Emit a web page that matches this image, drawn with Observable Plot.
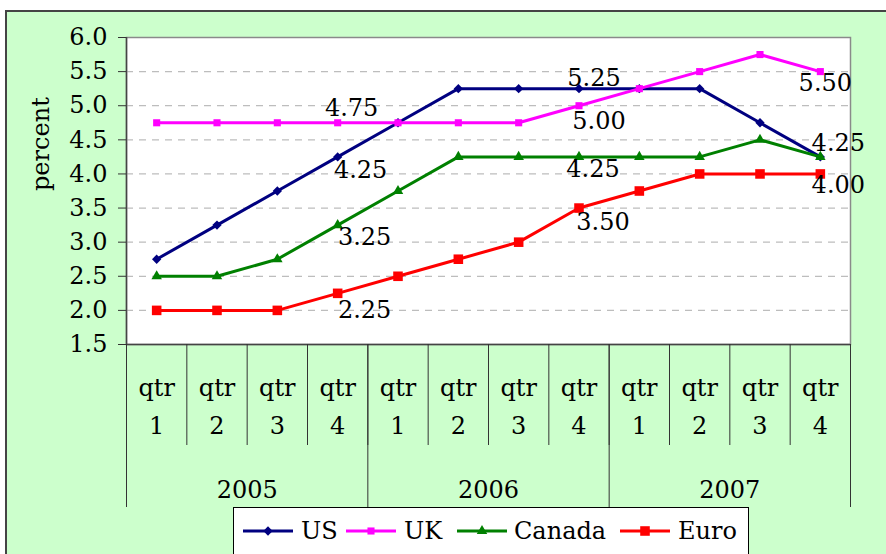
<!DOCTYPE html>
<html><head><meta charset="utf-8">
<script src="https://cdn.jsdelivr.net/npm/d3@7"></script>
<script src="https://cdn.jsdelivr.net/npm/@observablehq/plot@0.6"></script>
<style>
html,body{margin:0;padding:0;width:886px;height:554px;overflow:hidden;background:#fff;}
#bg{position:absolute;left:5px;top:10px;width:900px;height:600px;background:#ccffcc;border-left:2px solid #444;border-top:2px solid #444;box-sizing:border-box;}
#chart{position:absolute;left:0;top:0;}
#legend{position:absolute;left:233px;top:507px;width:516px;height:60px;background:#fff;border:1px solid #000;box-sizing:border-box;}
#legend svg{display:block;}
</style></head><body>
<div id="bg"></div><div id="chart"></div><div id="legend"></div>
<script>
// ---- data ----
const years = ["2005", "2006", "2007"];
const quarters = ["1", "2", "3", "4"];
const seriesNames = ["US", "UK", "Canada", "Euro"];
const usRates     = [2.75, 3.25, 3.75, 4.25, 4.75, 5.25, 5.25, 5.25, 5.25, 5.25, 4.75, 4.25];
const ukRates     = [4.75, 4.75, 4.75, 4.75, 4.75, 4.75, 4.75, 5.00, 5.25, 5.50, 5.75, 5.50];
const canadaRates = [2.50, 2.50, 2.75, 3.25, 3.75, 4.25, 4.25, 4.25, 4.25, 4.25, 4.50, 4.25];
const euroRates   = [2.00, 2.00, 2.00, 2.25, 2.50, 2.75, 3.00, 3.50, 3.75, 4.00, 4.00, 4.00];
const yTicks = [1.5, 2.0, 2.5, 3.0, 3.5, 4.0, 4.5, 5.0, 5.5, 6.0];
const yLabel = "percent";
const qtrWord = "qtr";
// labelled points: [series, index]
const labelledPoints = [["UK",3],["US",3],["Canada",3],["Euro",3],["US",7],["UK",7],["Canada",7],["Euro",7],["UK",11],["Canada",11],["Euro",11]];

// ---- styling (not data) ----
const colors = {US: "#000080", UK: "#ff00ff", Canada: "#008000", Euro: "#ff0000"};
const symbols = {US: "diamond2", UK: "square", Canada: "triangle", Euro: "square"};
const sizes = {US: 4.2, UK: 4.0, Canada: 3.9, Euro: 5.4};
const labelOffsets = [[14,-14],[23,13],[27,12],[27,17],[15,-10],[20,16],[14,12],[24,14],[5,12],[18,-14],[18,11]];
const FONT = "DejaVu Serif";
const FS = 24;

const seriesValues = {US: usRates, UK: ukRates, Canada: canadaRates, Euro: euroRates};
const nQ = years.length * quarters.length;
const rows = seriesNames.flatMap(s => seriesValues[s].map((v, i) => ({series: s, i, value: v})));
const cats = d3.range(nQ).map(i => ({i, q: quarters[i % quarters.length], year: years[Math.floor(i / quarters.length)]}));
const yearRows = years.map((y, k) => ({year: y, k}));
const xPos = i => i + 0.5;

const marks = [
  Plot.frame({fill: "white", stroke: "#8a8a8a", strokeWidth: 1.5}),
  Plot.gridY(yTicks.slice(1, -1), {stroke: "#bdbdbd", strokeOpacity: 1, strokeDasharray: "7,6", strokeWidth: 1.3}),
  Plot.ruleX([0], {stroke: "#444", strokeWidth: 1.5}),
  Plot.ruleY([yTicks[0]], {stroke: "#444", strokeWidth: 1.5}),
  Plot.axisY(yTicks, {tickFormat: d3.format(".1f"), tickSize: 8, tickPadding: 11, label: null, fontSize: FS, stroke: "#333", fill: "#000"}),
  Plot.axisX(d3.range(nQ + 1), {tickSize: 101, tickFormat: () => "", label: null, stroke: "#333"}),
  Plot.axisX(d3.range(0, nQ + 1, quarters.length), {tickSize: 163, tickFormat: () => "", label: null, stroke: "#333"}),
  Plot.text(cats, {x: d => xPos(d.i), text: d => qtrWord + "\n" + d.q, frameAnchor: "bottom", lineAnchor: "top", dy: 25, lineHeight: 1.58, fontSize: FS, fill: "#000"}),
  Plot.text(yearRows, {x: d => d.k * quarters.length + quarters.length / 2, text: "year", frameAnchor: "bottom", lineAnchor: "top", dy: 136, fontSize: FS, fill: "#000"}),
  Plot.text([yLabel], {frameAnchor: "left", rotate: -90, dx: -85, fontSize: FS, fill: "#000"})
];
for (const s of seriesNames) {
  const data = rows.filter(d => d.series === s);
  marks.push(Plot.line(data, {x: d => xPos(d.i), y: "value", stroke: colors[s], strokeWidth: 3}));
  marks.push(Plot.dot(data, {x: d => xPos(d.i), y: "value", symbol: symbols[s], r: sizes[s], fill: colors[s], stroke: "none"}));
}
labelledPoints.forEach(([s, i], k) => {
  const d = {i, value: seriesValues[s][i]};
  marks.push(Plot.text([d], {x: d => xPos(d.i), y: "value", text: d => d3.format(".2f")(d.value), dx: labelOffsets[k][0], dy: labelOffsets[k][1], fontSize: FS, fill: "#000"}));
});

const chart = Plot.plot({
  width: 886, height: 554,
  marginLeft: 126, marginRight: 36, marginTop: 37, marginBottom: 210,
  style: {fontFamily: FONT, fontSize: FS + "px", background: "transparent", color: "#000", overflow: "visible"},
  x: {domain: [0, nQ], axis: null},
  y: {domain: [yTicks[0], yTicks[yTicks.length - 1]], axis: null},
  marks
});
document.getElementById("chart").append(chart);

// ---- legend ----
const lg = d3.select("#legend").append("svg").attr("width", 514).attr("height", 58);
const lineX = [9, 112, 223, 386];
const textX = [67, 170, 280, 444];
const symMap = {diamond2: d3.symbolDiamond2, square: d3.symbolSquare, triangle: d3.symbolTriangle};
seriesNames.forEach((s, k) => {
  const g = lg.append("g");
  g.append("line").attr("x1", lineX[k]).attr("x2", lineX[k] + 50).attr("y1", 23).attr("y2", 23).attr("stroke", colors[s]).attr("stroke-width", 3);
  g.append("path").attr("transform", `translate(${lineX[k] + 25},23)`).attr("d", d3.symbol(symMap[symbols[s]], Math.PI * sizes[s] * sizes[s])()).attr("fill", colors[s]);
  g.append("text").attr("x", textX[k]).attr("y", 23).attr("dy", "0.35em").attr("font-family", FONT).attr("font-size", FS).text(s);
});
</script>
</body></html>
